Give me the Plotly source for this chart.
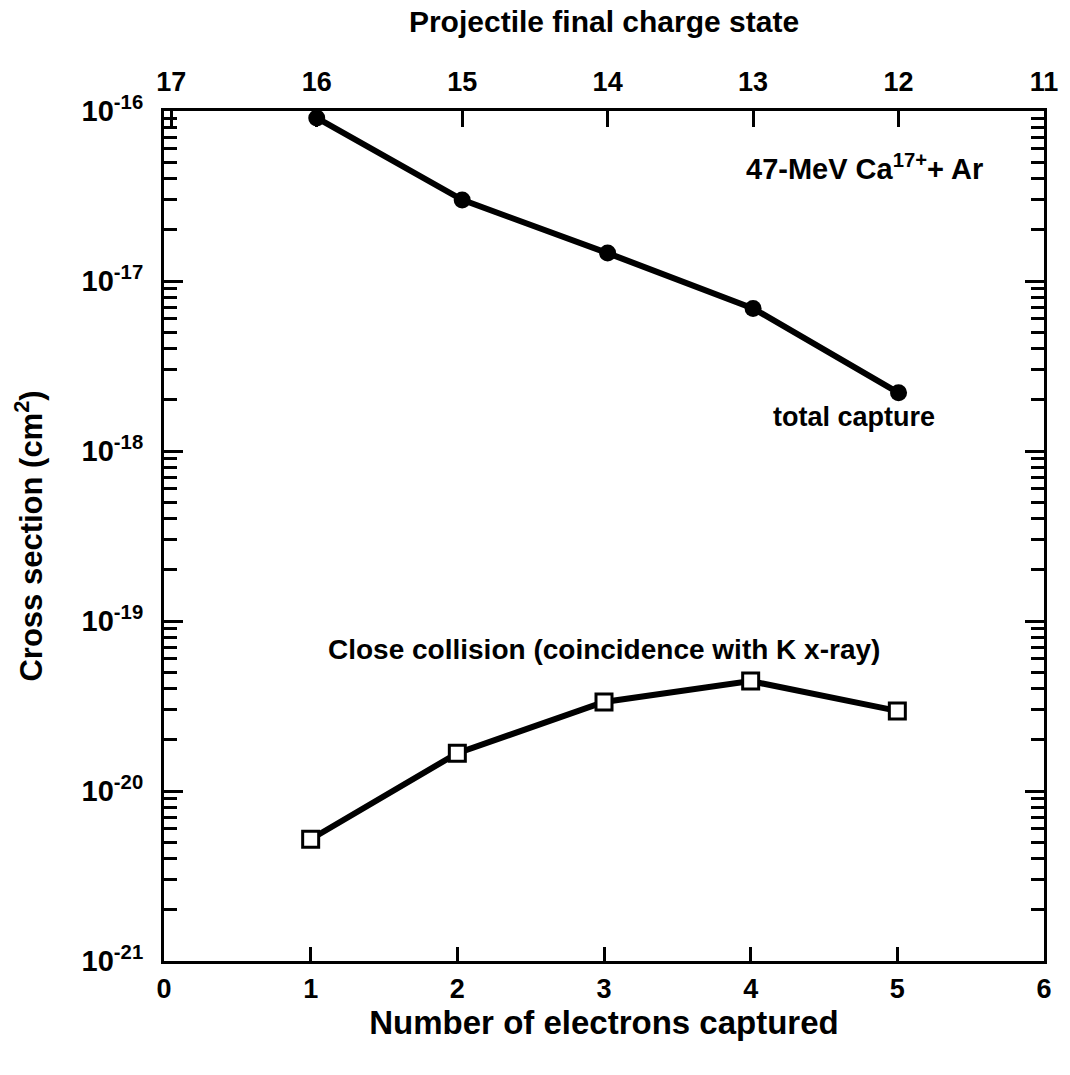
import plotly.graph_objects as go

# Data
charge_states = [16, 15, 14, 13, 12]                 # projectile final charge state (top axis)
total_capture = [9.1e-17, 3.0e-17, 1.46e-17, 6.9e-18, 2.2e-18]
electrons = [1, 2, 3, 4, 5]                          # number of electrons captured (bottom axis)
close_collision = [5.2e-21, 1.67e-20, 3.34e-20, 4.43e-20, 2.96e-20]

x_ticks = [0, 1, 2, 3, 4, 5, 6]
top_ticks = [17, 16, 15, 14, 13, 12, 11]
y_exps = [-21, -20, -19, -18, -17, -16]

FONT = "Liberation Sans"
BLACK = "black"

y_tickvals = [10.0 ** e for e in y_exps]
y_ticktext = ["10<sup>%d</sup>" % e for e in y_exps]
y_minor = [m * 10.0 ** e for e in y_exps[:-1] for m in range(2, 10)]

fig = go.Figure()

fig.add_trace(go.Scatter(
    x=electrons, y=close_collision, mode="lines+markers",
    line=dict(color=BLACK, width=6),
    marker=dict(symbol="square", size=16, color="white",
                line=dict(color=BLACK, width=3)),
    cliponaxis=False, showlegend=False, xaxis="x", yaxis="y"))

fig.add_trace(go.Scatter(
    x=charge_states, y=total_capture, mode="lines+markers",
    line=dict(color=BLACK, width=6),
    marker=dict(symbol="circle", size=17, color=BLACK),
    cliponaxis=False, showlegend=False, xaxis="x2", yaxis="y"))

tickfont = dict(family=FONT, size=27, color=BLACK, weight="bold")
ytickfont = dict(family=FONT, size=29, color=BLACK, weight="bold")
titlefont = dict(family=FONT, size=30, color=BLACK, weight="bold")

fig.update_layout(
    width=1070, height=1075,
    margin=dict(l=164, r=26, t=111, b=114),
    paper_bgcolor="white", plot_bgcolor="white",
    xaxis=dict(
        range=[0, 6], tickvals=x_ticks, ticks="inside", ticklen=14, tickwidth=3,
        tickcolor=BLACK, showline=True, linecolor=BLACK, linewidth=3,
        showgrid=False, zeroline=False, tickfont=tickfont, ticklabelstandoff=2,
        title=dict(text="Number of electrons captured",
                   font=dict(family=FONT, size=33, color=BLACK, weight="bold"),
                   standoff=6),
    ),
    xaxis2=dict(
        range=[17.05, 11.0], tickvals=top_ticks, overlaying="x", side="top",
        ticks="inside", ticklen=16, tickwidth=3, tickcolor=BLACK,
        showline=True, linecolor=BLACK, linewidth=3, showgrid=False,
        zeroline=False, tickfont=tickfont, ticklabelstandoff=6,
        title=dict(text="Projectile final charge state", font=titlefont, standoff=26),
    ),
    yaxis=dict(
        type="log", range=[-21, -16], tickvals=y_tickvals, ticktext=y_ticktext,
        ticks="inside", ticklen=19, tickwidth=3, tickcolor=BLACK,
        minor=dict(tickvals=y_minor, ticks="inside", ticklen=13, tickwidth=3,
                   tickcolor=BLACK),
        showline=True, linecolor=BLACK, linewidth=3, mirror="ticks",
        showgrid=False, zeroline=False, tickfont=ytickfont, ticklabelstandoff=12,
        title=dict(text="Cross section (cm<sup>2</sup>)",
                   font=dict(family=FONT, size=31, color=BLACK, weight="bold"),
                   standoff=30),
    ),
    annotations=[
        dict(text="47-MeV Ca<sup>17+</sup>+ Ar", x=5.6, y=-16.33, xref="x", yref="y",
             xanchor="right", yanchor="middle", showarrow=False,
             font=dict(family=FONT, size=29, color=BLACK, weight="bold")),
        dict(text="total capture", x=5.27, y=-17.8, xref="x", yref="y",
             xanchor="right", yanchor="middle", showarrow=False,
             font=dict(family=FONT, size=27, color=BLACK, weight="bold")),
        dict(text="Close collision (coincidence with K x-ray)", x=3.0, y=-19.17,
             xref="x", yref="y", xanchor="center", yanchor="middle", showarrow=False,
             font=dict(family=FONT, size=28, color=BLACK, weight="bold")),
    ],
)

fig.write_html("out.html")
